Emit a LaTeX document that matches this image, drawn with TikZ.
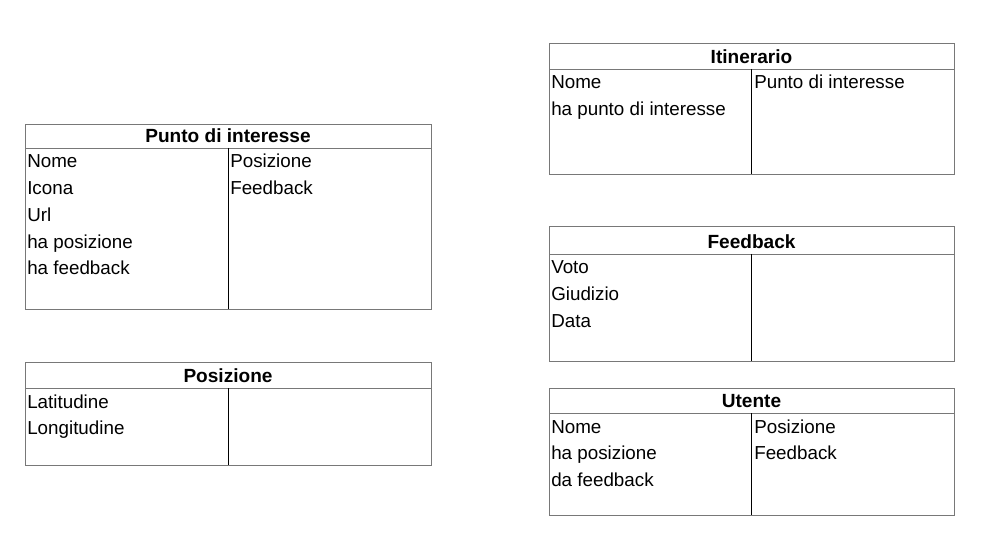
\documentclass[tikz,border=0pt]{standalone}
\usepackage{fontspec}
\setmainfont{Liberation Sans}
\definecolor{bordercol}{RGB}{120,120,120}
\tikzset{
  frame/.style={draw=bordercol, line width=0.65pt},
  divline/.style={draw=black, line width=0.6pt},
  ttl/.style={font=\bfseries\fontsize{14.3}{16}\selectfont, anchor=base, inner sep=0},
  itm/.style={font=\fontsize{14.1}{16}\selectfont, anchor=base west, inner sep=0}
}
\newcommand{\umltab}[8]{%
  % #1 name, #2 left x, #3 top y, #4 header y, #5 bottom y, #6 divider x, #7 right x, #8 title
  \draw[frame] (#2,#3) rectangle (#7,#5);
  \draw[frame] (#2,#4) -- (#7,#4);
  \draw[divline] (#6,#4) -- (#6,#5);
  \node[ttl] (#1-title) at ({(#2+#7)/2},#4-5.5) {#8};
}
\begin{document}
\begin{tikzpicture}[x=0.75pt,y=-0.75pt]
\useasboundingbox (0,0) rectangle (987,548);
\fill[white] (0,0) rectangle (987,548);

% Punto di interesse
\umltab{pdi}{25}{124}{148}{309}{228}{431}{Punto di interesse}
\foreach \t [count=\i] in {Nome,Icona,Url,ha posizione,ha feedback}
  \node[itm] (pdi-l\i) at (27,{148+20+(\i-1)*26.7}) {\t};
\foreach \t [count=\i] in {Posizione,Feedback}
  \node[itm] (pdi-r\i) at (230,{148+20+(\i-1)*26.7}) {\t};

% Posizione
\umltab{pos}{25}{362}{388}{465}{228}{431}{Posizione}
\foreach \t [count=\i] in {Latitudine,Longitudine}
  \node[itm] (pos-l\i) at (27,{388+20+(\i-1)*26.7}) {\t};

% Itinerario
\umltab{iti}{549}{43}{69}{174}{751}{954}{Itinerario}
\foreach \t [count=\i] in {Nome,ha punto di interesse}
  \node[itm] (iti-l\i) at (551,{69+20+(\i-1)*26.7}) {\t};
\node[itm] (iti-r1) at (754,89) {Punto di interesse};

% Feedback
\umltab{fb}{549}{226}{254}{361}{751}{954}{Feedback}
\foreach \t [count=\i] in {Voto,Giudizio,Data}
  \node[itm] (fb-l\i) at (551,{254+20+(\i-1)*26.7}) {\t};

% Utente
\umltab{ute}{549}{388}{413}{515}{751}{954}{Utente}
\foreach \t [count=\i] in {Nome,ha posizione,da feedback}
  \node[itm] (ute-l\i) at (551,{413+20+(\i-1)*26.7}) {\t};
\foreach \t [count=\i] in {Posizione,Feedback}
  \node[itm] (ute-r\i) at (754,{413+20+(\i-1)*26.7}) {\t};
\end{tikzpicture}
\end{document}
